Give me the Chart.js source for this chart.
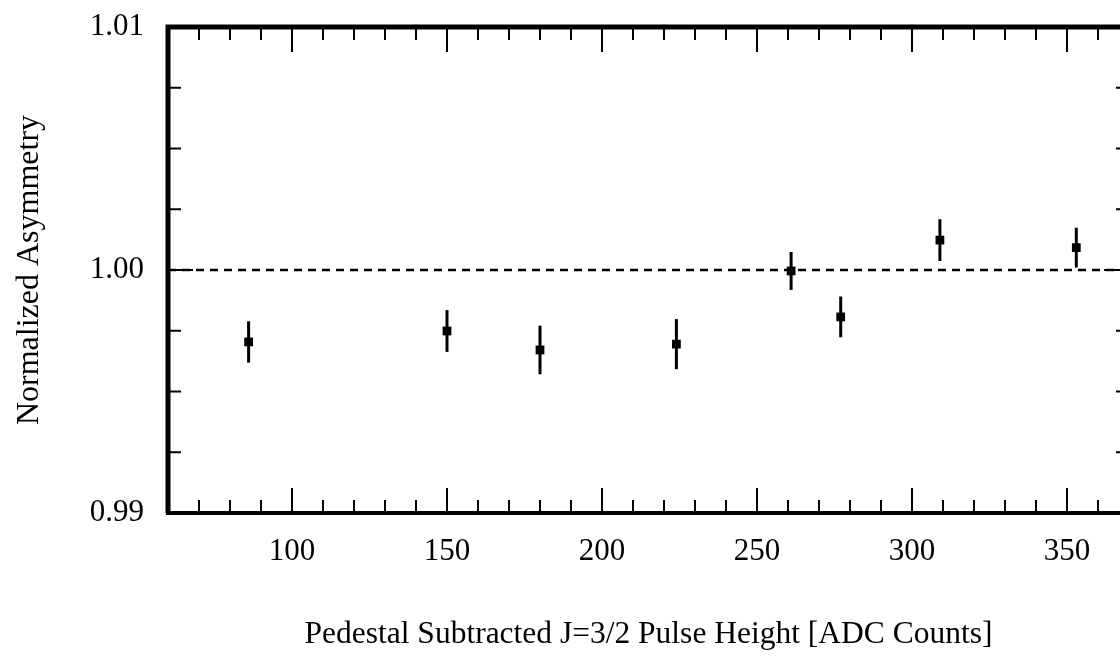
<!DOCTYPE html>
<html>
<head>
<meta charset="utf-8">
<script src="https://cdn.jsdelivr.net/npm/chart.js@4"></script>
<style>
  html, body { margin: 0; padding: 0; background: #fff; overflow: hidden; }
  #chart { display: block; }
</style>
</head>
<body>
<canvas id="chart" width="1136" height="656"></canvas>
<script>
// values
const X_VALUES = [86, 150, 180, 224, 261, 277, 309, 353];
const Y_VALUES = [0.99704, 0.99749, 0.99671, 0.99695, 0.99996, 0.99807, 1.00123, 1.00092];
const Y_ERRORS = [0.00085, 0.00086, 0.00100, 0.00103, 0.00078, 0.00084, 0.00086, 0.00082];

const X_TICKS = [100, 150, 200, 250, 300, 350];
const X_MINOR = [70, 80, 90, 100, 110, 120, 130, 140, 150, 160, 170, 180, 190, 200, 210, 220, 230, 240,
                 250, 260, 270, 280, 290, 300, 310, 320, 330, 340, 350, 360];
const Y_TICKS = [0.99, 1.00, 1.01];
const Y_MINOR = [0.9925, 0.995, 0.9975, 1.00, 1.0025, 1.005, 1.0075];
const REF_LINE = [1.00, 1.00];
const X_RANGE = [60, 370];
const Y_RANGE = [0.99, 1.01];

const FONT = "'Liberation Serif', 'DejaVu Serif', serif";

// frame with inward ticks on all four sides + error bars
const framePlugin = {
    id: 'frame',
    afterDatasetsDraw(chart) {
        const { ctx, chartArea: a, scales: { x, y } } = chart;
        ctx.save();
        ctx.strokeStyle = '#000';
        ctx.lineCap = 'butt';

        // error bars
        ctx.lineWidth = 3;
        X_VALUES.forEach((xv, i) => {
            const px = x.getPixelForValue(xv);
            ctx.beginPath();
            ctx.moveTo(px, y.getPixelForValue(Y_VALUES[i] + Y_ERRORS[i]));
            ctx.lineTo(px, y.getPixelForValue(Y_VALUES[i] - Y_ERRORS[i]));
            ctx.stroke();
        });

        // ticks
        ctx.lineWidth = 2;
        X_MINOR.forEach(v => {
            const px = x.getPixelForValue(v);
            const len = X_TICKS.includes(v) ? 25 : 13;
            ctx.beginPath();
            ctx.moveTo(px, a.bottom); ctx.lineTo(px, a.bottom - len);
            ctx.moveTo(px, a.top); ctx.lineTo(px, a.top + len);
            ctx.stroke();
        });
        Y_MINOR.forEach(v => {
            const py = y.getPixelForValue(v);
            const len = Y_TICKS.includes(v) ? 25 : 13;
            ctx.beginPath();
            ctx.moveTo(a.left, py); ctx.lineTo(a.left + len, py);
            ctx.moveTo(a.right, py); ctx.lineTo(a.right - len, py);
            ctx.stroke();
        });

        // heavy frame
        ctx.lineWidth = 5;
        ctx.beginPath();
        ctx.moveTo(a.left, a.bottom);
        ctx.lineTo(a.left, a.top);
        ctx.lineTo(a.right, a.top);
        ctx.lineTo(a.right, a.bottom);
        ctx.stroke();
        ctx.lineWidth = 4;
        ctx.beginPath();
        ctx.moveTo(a.left - 2, a.bottom);
        ctx.lineTo(a.right + 2, a.bottom);
        ctx.stroke();
        ctx.restore();
    }
};

new Chart(document.getElementById('chart'), {
    type: 'scatter',
    data: {
        datasets: [
            {
                type: 'line',
                data: X_RANGE.map((xv, i) => ({ x: xv, y: REF_LINE[i] })),
                borderColor: '#000',
                borderWidth: 2.5,
                borderDash: [8, 6],
                pointRadius: 0,
                fill: false
            },
            {
                data: X_VALUES.map((xv, i) => ({ x: xv, y: Y_VALUES[i] })),
                pointStyle: 'rect',
                pointRadius: 6.2,
                backgroundColor: '#000',
                borderColor: '#000',
                borderWidth: 0
            }
        ]
    },
    options: {
        responsive: false,
        animation: false,
        layout: { padding: { top: 27, right: 7, left: 0, bottom: 0 } },
        plugins: { legend: { display: false }, tooltip: { enabled: false } },
        scales: {
            x: {
                type: 'linear',
                min: X_RANGE[0],
                max: X_RANGE[1],
                afterBuildTicks: s => { s.ticks = X_TICKS.map(v => ({ value: v })); },
                afterFit: s => { s.height = 143; s.paddingLeft = 0; s.paddingRight = 0; },
                grid: { display: false, drawTicks: false },
                border: { display: false },
                ticks: { color: '#000', padding: 20, font: { family: FONT, size: 31 } },
                title: {
                    display: true,
                    text: 'Pedestal Subtracted J=3/2 Pulse Height [ADC Counts]',
                    color: '#000',
                    font: { family: FONT, size: 31.5 },
                    padding: { top: 0, bottom: 2 }
                }
            },
            y: {
                type: 'linear',
                min: Y_RANGE[0],
                max: Y_RANGE[1],
                afterBuildTicks: s => { s.ticks = Y_TICKS.map(v => ({ value: v })); },
                afterFit: s => { s.width = 168; s.paddingTop = 0; s.paddingBottom = 0; },
                grid: { display: false, drawTicks: false },
                border: { display: false },
                ticks: {
                    color: '#000', padding: 24,
                    font: { family: FONT, size: 31 },
                    callback: v => v.toFixed(2)
                },
                title: {
                    display: true,
                    text: 'Normalized Asymmetry',
                    color: '#000',
                    font: { family: FONT, size: 32 },
                    padding: { top: 10, bottom: 0 }
                }
            }
        }
    },
    plugins: [framePlugin]
});
</script>
</body>
</html>
